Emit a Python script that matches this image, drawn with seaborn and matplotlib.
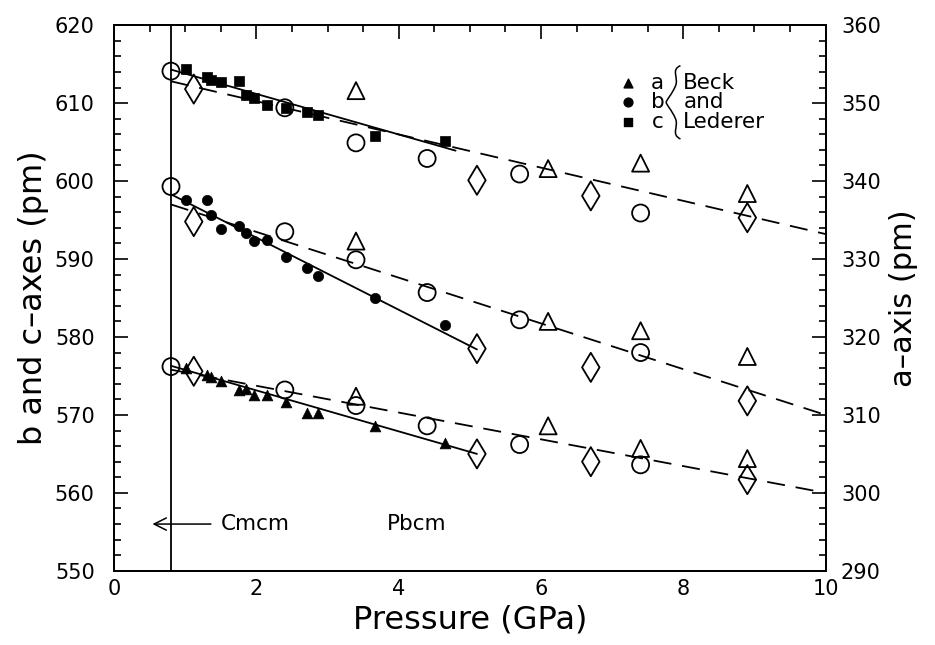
import numpy as np
import pandas as pd
import matplotlib
matplotlib.use("Agg")
import matplotlib.pyplot as plt
from matplotlib.path import Path
from matplotlib.patches import PathPatch
import seaborn as sns

# Beck and Lederer (filled markers)
beck_p = [1.01, 1.30, 1.36, 1.50, 1.75, 1.86, 1.97, 2.15, 2.42, 2.71, 2.87, 3.67, 4.65]
beck_c = [614.4, 613.3, 613.0, 612.7, 612.9, 611.1, 610.6, 609.8, 609.4, 608.9, 608.5, 605.8, 605.1]
beck_b = [597.6, 597.6, 595.6, 593.9, 594.2, 593.3, 592.3, 592.4, 590.3, 588.9, 587.8, 585.0, 581.5]
beck_a = [316.0, 315.1, 314.9, 314.4, 313.2, 313.3, 312.5, 312.6, 311.7, 310.2, 310.2, 308.6, 306.4]

# open circles
circ_p = [0.8, 2.4, 3.4, 4.4, 5.7, 7.4]
circ_c = [614.1, 609.4, 604.9, 602.9, 600.9, 595.9]
circ_b = [599.3, 593.5, 589.9, 585.7, 582.2, 578.0]
circ_a = [316.2, 313.2, 311.2, 308.6, 306.2, 303.6]

# open triangles
tri_p = [3.4, 6.1, 7.4, 8.9]
tri_c = [611.6, 601.6, 602.3, 598.4]
tri_b = [592.3, 582.0, 580.8, 577.5]
tri_a = [312.4, 308.6, 305.7, 304.4]

# open diamonds
dia_p = [1.12, 5.1, 6.7, 8.9]
dia_c = [611.8, 600.1, 598.1, 595.3]
dia_b = [594.8, 578.5, 576.1, 571.8]
dia_a = [315.6, 305.0, 304.0, 301.7]

# fitted lines (end points)
solid_p = [0.8, 4.8]
solid_c = [614.3, 603.9]
solid_pb = [0.8, 5.1]
solid_b = [598.3, 578.4]
solid_a = [316.3, 305.0]
dash_p = [0.8, 10.0]
dash_c = [612.8, 593.2]
dash_b = [597.0, 570.0]
dash_a = [315.8, 300.0]

p_transition = 0.8

sns.set_style("white")
plt.rcParams['font.family'] = ['DejaVu Sans']
plt.rcParams['text.color'] = 'black'
plt.rcParams['axes.labelcolor'] = 'black'
plt.rcParams['xtick.color'] = 'black'
plt.rcParams['ytick.color'] = 'black'

fig = plt.figure(figsize=(9.35, 6.45), dpi=100)
ax = fig.add_axes([0.122, 0.115, 0.761, 0.846])
ax2 = ax.twinx()

ax.set_xlim(0, 10)
ax.set_ylim(550, 620)
ax2.set_ylim(290, 360)

lw = 1.3
dash = (10, 6)

# lines
sns.lineplot(x=solid_p, y=solid_c, color='k', lw=lw, ax=ax)
sns.lineplot(x=solid_pb, y=solid_b, color='k', lw=lw, ax=ax)
sns.lineplot(x=solid_pb, y=solid_a, color='k', lw=lw, ax=ax2)
sns.lineplot(x=dash_p, y=dash_c, color='k', lw=lw, dashes=dash, ax=ax)
sns.lineplot(x=dash_p, y=dash_b, color='k', lw=lw, dashes=dash, ax=ax)
sns.lineplot(x=dash_p, y=dash_a, color='k', lw=lw, dashes=dash, ax=ax2)
ax.axvline(p_transition, color='k', lw=lw)

open_kw = dict(facecolor='none', edgecolor='k', linewidth=1.3, zorder=3)
for y_c, y_b, y_a, p, m, s in [(circ_c, circ_b, circ_a, circ_p, 'o', 150),
                               (tri_c, tri_b, tri_a, tri_p, '^', 150),
                               (dia_c, dia_b, dia_a, dia_p, 'd', 220)]:
    sns.scatterplot(x=p, y=y_c, marker=m, s=s, ax=ax, **open_kw)
    sns.scatterplot(x=p, y=y_b, marker=m, s=s, ax=ax, **open_kw)
    sns.scatterplot(x=p, y=y_a, marker=m, s=s, ax=ax2, **open_kw)

fill_kw = dict(color='k', edgecolor='k', linewidth=0.5, zorder=4)
sns.scatterplot(x=beck_p, y=beck_c, marker='s', s=45, ax=ax, **fill_kw)
sns.scatterplot(x=beck_p, y=beck_b, marker='o', s=55, ax=ax, **fill_kw)
sns.scatterplot(x=beck_p, y=beck_a, marker='^', s=60, ax=ax2, **fill_kw)

# legend
leg_x = 7.22
for yy, m, lab in [(612.6, '^', 'a'), (610.1, 'o', 'b'), (607.6, 's', 'c')]:
    ax.scatter([leg_x], [yy], marker=m, s=40, color='k', zorder=5)
    ax.text(leg_x + 0.42, yy, lab, fontsize=15.5, va='center', ha='center')
for yy, lab in [(612.6, 'Beck'), (610.1, 'and'), (607.6, 'Lederer')]:
    ax.text(8.0, yy, lab, fontsize=15.5, va='center', ha='left')

# brace
bx = 7.96
verts = [(bx, 614.8), (bx - 0.14, 614.3), (bx - 0.02, 613.2), (bx - 0.07, 612.2),
         (bx - 0.12, 611.1), (bx - 0.20, 610.4), (bx - 0.20, 610.1),
         (bx - 0.20, 609.8), (bx - 0.12, 609.1), (bx - 0.07, 608.0),
         (bx - 0.02, 607.0), (bx - 0.14, 606.0), (bx, 605.4)]
codes = [Path.MOVETO] + [Path.CURVE4] * 12
ax.add_patch(PathPatch(Path(verts, codes), fc='none', ec='k', lw=1.1))

# phase annotations
ax.annotate('', xy=(0.5, 556), xytext=(1.4, 556),
            arrowprops=dict(arrowstyle='->', color='k', lw=1.1, mutation_scale=22))
ax.text(1.5, 556, 'Cmcm', fontsize=15.5, va='center', ha='left')
ax.text(3.83, 556, 'Pbcm', fontsize=15.5, va='center', ha='left')

# ticks
ax.set_xticks(np.arange(0, 11, 2))
ax.set_xticks(np.arange(0, 10.01, 0.5), minor=True)
ax.set_yticks(np.arange(550, 621, 10))
ax.set_yticks(np.arange(550, 621, 2), minor=True)
ax2.set_yticks(np.arange(290, 361, 10))
ax2.set_yticks(np.arange(290, 361, 2), minor=True)
ax.tick_params(which='both', direction='in', top=True, right=False, labelsize=15, width=1.2)
ax.tick_params(axis='y', pad=14)
ax.tick_params(axis='x', pad=6)
ax.tick_params(which='major', length=10)
ax.tick_params(which='minor', length=5)
ax2.tick_params(which='both', direction='in', labelsize=15, width=1.2, pad=11)
ax2.tick_params(which='major', length=10)
ax2.tick_params(which='minor', length=5)

for a_ in (ax, ax2):
    for sp in a_.spines.values():
        sp.set_color('k')
        sp.set_linewidth(1.4)

ax.set_xlabel('Pressure (GPa)', fontsize=23, labelpad=4)
ax.set_ylabel('b and c\u2013axes (pm)', fontsize=23, labelpad=4)
ax2.set_ylabel('a\u2013axis (pm)', fontsize=22, labelpad=6)

fig.savefig('out.png', dpi=100)
